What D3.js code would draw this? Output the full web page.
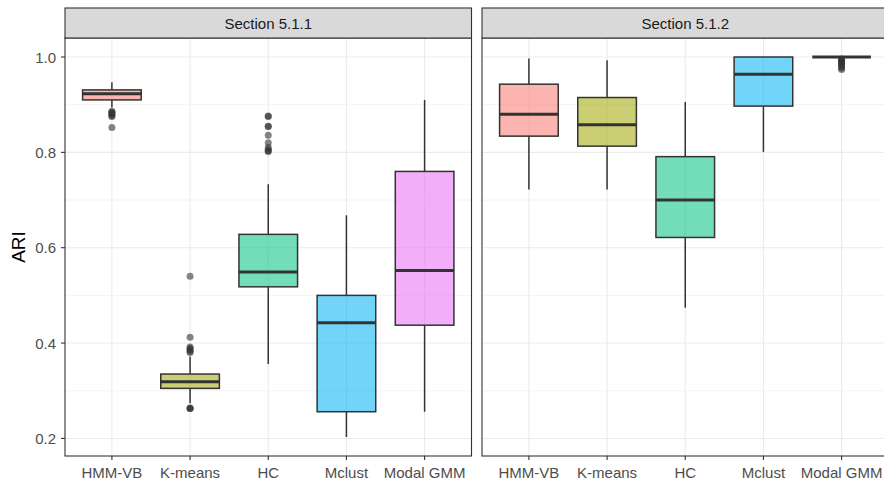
<!DOCTYPE html>
<html>
<head>
<meta charset="utf-8">
<script src="https://cdn.jsdelivr.net/npm/d3@7"></script>
<style>
  html, body { margin: 0; padding: 0; background: #fff; }
  svg { display: block; font-family: "Liberation Sans", Arial, sans-serif; }
</style>
</head>
<body>
<svg id="chart" width="884" height="481"></svg>
<script>
// Facets and methods
const sections = ["Section 5.1.1", "Section 5.1.2"];
const methods = ["HMM-VB", "K-means", "HC", "Mclust", "Modal GMM"];
const methodColors = ["#F8766D", "#A3A500", "#00BF7D", "#00B0F6", "#E76BF3"];
const yTicks = [0.2, 0.4, 0.6, 0.8, 1.0];
const yMinorTicks = [0.3, 0.5, 0.7, 0.9];

// Box statistics, Section 5.1.1 (one entry per method)
const s1Lower  = [0.894, 0.274, 0.356, 0.203, 0.256];
const s1Q1     = [0.910, 0.305, 0.518, 0.256, 0.4375];
const s1Median = [0.923, 0.319, 0.549, 0.4425, 0.552];
const s1Q3     = [0.931, 0.335, 0.628, 0.500, 0.760];
const s1Upper  = [0.947, 0.372, 0.733, 0.668, 0.910];
const s1Outliers = [
  [0.886, 0.884, 0.882, 0.880, 0.877, 0.875, 0.852],
  [0.540, 0.412, 0.392, 0.389, 0.386, 0.383, 0.380, 0.264, 0.263, 0.263],
  [0.876, 0.875, 0.855, 0.854, 0.836, 0.820, 0.810, 0.806, 0.803, 0.802],
  [],
  []
];

// Box statistics, Section 5.1.2
const s2Lower  = [0.722, 0.722, 0.474, 0.801, 1.0];
const s2Q1     = [0.834, 0.813, 0.6215, 0.897, 1.0];
const s2Median = [0.880, 0.858, 0.700, 0.964, 1.0];
const s2Q3     = [0.943, 0.915, 0.791, 1.0, 1.0];
const s2Upper  = [0.997, 0.993, 0.9055, 1.0, 1.0];
const s2Outliers = [
  [], [], [], [],
  [0.996, 0.994, 0.992, 0.990, 0.988, 0.986, 0.983, 0.980, 0.977, 0.974]
];

function buildRows(lower, q1, med, q3, upper, outs) {
  return methods.map((m, i) => ({
    method: m, color: methodColors[i],
    lower: lower[i], q1: q1[i], median: med[i], q3: q3[i], upper: upper[i],
    outliers: outs[i]
  }));
}
const facetData = [
  buildRows(s1Lower, s1Q1, s1Median, s1Q3, s1Upper, s1Outliers),
  buildRows(s2Lower, s2Q1, s2Median, s2Q3, s2Upper, s2Outliers)
];

// Layout
const panelTop = 38, panelBottom = 456, stripTop = 8;
const panelW = 406.5;
const panelLefts = [65, 482];

// Shared y scale with 5% padding on the data range
const allVals = facetData.flat().flatMap(d => [d.lower, d.upper, ...d.outliers]);
const yMin = d3.min(allVals), yMax = d3.max(allVals);
const pad = (yMax - yMin) * 0.05;
const y = d3.scaleLinear().domain([yMin - pad, yMax + pad]).range([panelBottom, panelTop]);

// Discrete x positions: 0.6 units of expansion on each side
const x = d3.scalePoint().domain(methods)
  .range([panelW * 0.6 / 5.2, panelW * 4.6 / 5.2]);
const xc = m => x(m);
const boxW = x.step() * 0.75;

const svg = d3.select("#chart");
const ink = "#333333";

sections.forEach((sec, fi) => {
  const g = svg.append("g").attr("transform", `translate(${panelLefts[fi]},0)`);

  // panel background
  g.append("rect").attr("x", 0).attr("y", panelTop).attr("width", panelW)
    .attr("height", panelBottom - panelTop).attr("fill", "#fff");

  // minor grid
  g.selectAll(".minor").data(yMinorTicks).join("line")
    .attr("x1", 0).attr("x2", panelW)
    .attr("y1", d => y(d)).attr("y2", d => y(d))
    .attr("stroke", "#EBEBEB").attr("stroke-width", 0.6);
  // major grid
  g.selectAll(".majorY").data(yTicks).join("line")
    .attr("x1", 0).attr("x2", panelW)
    .attr("y1", d => y(d)).attr("y2", d => y(d))
    .attr("stroke", "#EBEBEB").attr("stroke-width", 1.1);
  g.selectAll(".majorX").data(methods).join("line")
    .attr("x1", d => xc(d)).attr("x2", d => xc(d))
    .attr("y1", panelTop).attr("y2", panelBottom)
    .attr("stroke", "#EBEBEB").attr("stroke-width", 1.1);

  const rows = facetData[fi];
  const bx = g.selectAll(".box").data(rows).join("g");

  // whiskers
  bx.append("line")
    .attr("x1", d => xc(d.method)).attr("x2", d => xc(d.method))
    .attr("y1", d => y(d.upper)).attr("y2", d => y(d.q3))
    .attr("stroke", ink).attr("stroke-width", 1.5);
  bx.append("line")
    .attr("x1", d => xc(d.method)).attr("x2", d => xc(d.method))
    .attr("y1", d => y(d.q1)).attr("y2", d => y(d.lower))
    .attr("stroke", ink).attr("stroke-width", 1.5);

  // box
  bx.append("rect")
    .attr("x", d => xc(d.method) - boxW / 2).attr("width", boxW)
    .attr("y", d => y(d.q3)).attr("height", d => Math.max(0, y(d.q1) - y(d.q3)))
    .attr("fill", d => d.color).attr("fill-opacity", 0.55)
    .attr("stroke", ink).attr("stroke-width", 1.5);

  // median
  bx.append("line")
    .attr("x1", d => xc(d.method) - boxW / 2).attr("x2", d => xc(d.method) + boxW / 2)
    .attr("y1", d => y(d.median)).attr("y2", d => y(d.median))
    .attr("stroke", ink).attr("stroke-width", 3);

  // outliers
  bx.each(function(d) {
    d3.select(this).selectAll("circle").data(d.outliers).join("circle")
      .attr("cx", xc(d.method)).attr("cy", v => y(v)).attr("r", 3.5)
      .attr("fill", ink).attr("fill-opacity", 0.6);
  });

  // panel border
  g.append("rect").attr("x", 0).attr("y", panelTop).attr("width", panelW)
    .attr("height", panelBottom - panelTop).attr("fill", "none")
    .attr("stroke", ink).attr("stroke-width", 1.1);

  // strip
  g.append("rect").attr("x", 0).attr("y", stripTop).attr("width", panelW)
    .attr("height", panelTop - stripTop).attr("fill", "#D9D9D9")
    .attr("stroke", ink).attr("stroke-width", 1.1);
  g.append("text").attr("x", panelW / 2).attr("y", (stripTop + panelTop) / 2)
    .attr("text-anchor", "middle").attr("dominant-baseline", "central")
    .attr("font-size", 15).attr("fill", "#1A1A1A").text(sec);

  // x axis ticks & labels
  const xa = g.append("g");
  xa.selectAll("line").data(methods).join("line")
    .attr("x1", d => xc(d)).attr("x2", d => xc(d))
    .attr("y1", panelBottom).attr("y2", panelBottom + 4)
    .attr("stroke", ink).attr("stroke-width", 1.1);
  xa.selectAll("text").data(methods).join("text")
    .attr("x", d => xc(d)).attr("y", panelBottom + 22)
    .attr("text-anchor", "middle").attr("font-size", 15).attr("fill", "#4D4D4D")
    .text(d => d);
});

// y axis (left panel only)
const ya = svg.append("g");
ya.selectAll("line").data(yTicks).join("line")
  .attr("x1", panelLefts[0] - 4).attr("x2", panelLefts[0])
  .attr("y1", d => y(d)).attr("y2", d => y(d))
  .attr("stroke", ink).attr("stroke-width", 1.1);
ya.selectAll("text").data(yTicks).join("text")
  .attr("x", panelLefts[0] - 9).attr("y", d => y(d))
  .attr("text-anchor", "end").attr("dominant-baseline", "central")
  .attr("font-size", 15).attr("fill", "#4D4D4D")
  .text(d => d3.format(".1f")(d));

// y axis title
svg.append("text")
  .attr("transform", `translate(25,${(panelTop + panelBottom) / 2}) rotate(-90)`)
  .attr("text-anchor", "middle").attr("font-size", 19).attr("fill", "#000")
  .text("ARI");
</script>
</body>
</html>
